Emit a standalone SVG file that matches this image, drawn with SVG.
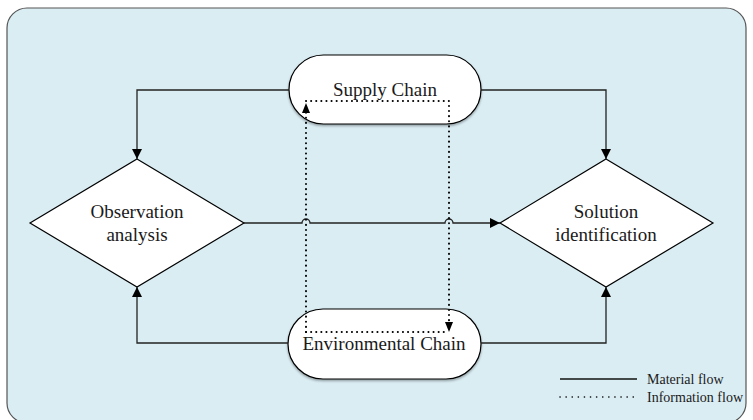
<svg xmlns="http://www.w3.org/2000/svg" width="753" height="420" viewBox="0 0 753 420">
<style>
.node{fill:#ffffff;stroke:#000;stroke-width:1.2}
.lbl{font-family:"Liberation Serif","Times New Roman",serif;font-size:19px;fill:#1a1a1a;text-anchor:middle}
.leg{font-family:"Liberation Serif","Times New Roman",serif;font-size:14px;fill:#1a1a1a}
.mat{fill:none;stroke:#222;stroke-width:1.3}
.info{fill:none;stroke:#000;stroke-width:2;stroke-dasharray:0.1 5;stroke-linecap:round}
.info-leg{fill:none;stroke:#000;stroke-width:1.6;stroke-dasharray:0.1 6;stroke-linecap:round}
</style>
<defs>
<marker id="ah" viewBox="0 0 10 10" refX="10" refY="5" markerWidth="10" markerHeight="10" markerUnits="userSpaceOnUse" orient="auto">
<path d="M0,0 L10,5 L0,10 Z" fill="#000"/>
</marker>
<filter id="sh" x="-10%" y="-10%" width="120%" height="130%">
<feDropShadow dx="0" dy="1.5" stdDeviation="0.8" flood-color="#000" flood-opacity="0.35"/>
</filter>
</defs>
<rect x="7" y="8" width="739" height="415" rx="20" ry="20" fill="#daedf3" stroke="#555" stroke-width="1.2"/>
<g id="supply-chain">
<rect class="node" x="289" y="55" width="192" height="69" rx="34.5" ry="34.5" filter="url(#sh)"/>
<text class="lbl" x="385" y="96">Supply Chain</text>
</g>
<g id="environmental-chain">
<rect class="node" x="288" y="309" width="193" height="70" rx="35" ry="35" filter="url(#sh)"/>
<text class="lbl" x="384" y="350">Environmental Chain</text>
</g>
<g id="observation-analysis">
<polygon class="node" points="137,159 244,223 137,287 30,223"/>
<text class="lbl" x="137" y="218">Observation</text>
<text class="lbl" x="137" y="241">analysis</text>
</g>
<g id="solution-identification">
<polygon class="node" points="606,159 713,223 606,287 500,223"/>
<text class="lbl" x="606" y="218">Solution</text>
<text class="lbl" x="606" y="241">identification</text>
</g>
<g id="connectors">
<path class="mat" d="M289,90 H137 V159" marker-end="url(#ah)"/>
<path class="mat" d="M481,90 H606 V159" marker-end="url(#ah)"/>
<path class="mat" d="M288,343 H137 V287" marker-end="url(#ah)"/>
<path class="mat" d="M481,343 H606 V287" marker-end="url(#ah)"/>
<path class="mat" d="M244,223 H302 A4,4 0 0 1 310,223 H445 A4,4 0 0 1 453,223 H500" marker-end="url(#ah)"/>
<path class="info" d="M306,332 V112"/>
<path d="M306,103 L302,113 L310,113 Z" fill="#000"/>
<path class="info" d="M306,101 H449 V322"/>
<path d="M449,332 L445,322 L453,322 Z" fill="#000"/>
<path class="info" d="M306,332 H444"/>
</g>
<g id="legend">
<line x1="560" y1="379" x2="637" y2="379" stroke="#111" stroke-width="1.6"/>
<text class="leg" x="647" y="384">Material flow</text>
<line x1="560" y1="397" x2="637" y2="397" class="info-leg"/>
<text class="leg" x="647" y="402">Information flow</text>
</g>
</svg>
